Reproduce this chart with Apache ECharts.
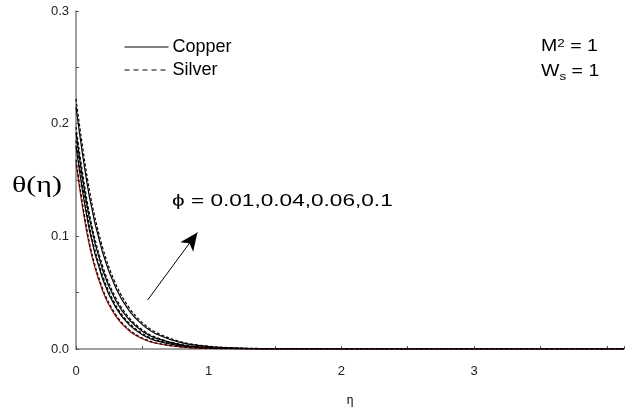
<!DOCTYPE html>
<html>
<head>
<meta charset="utf-8">
<style>
  html, body { margin: 0; padding: 0; background: #fff; }
  #chart { width: 627px; height: 412px; }
</style>
<script src="https://cdn.jsdelivr.net/npm/echarts@6/dist/echarts.min.js"></script>
</head>
<body>
<div id="chart"></div>
<script>
// eta sample points
var eta = [0, 0.1, 0.2, 0.3, 0.4, 0.5, 0.6, 0.8, 1.0, 1.2, 1.5, 2, 3, 4.13];

// theta(eta), copper (solid) and silver (dashed), phi = 0.01, 0.04, 0.06, 0.1
var cu001 = [0.165, 0.0924, 0.0517, 0.0290, 0.0162, 0.0091, 0.0051, 0.0016, 0.0005, 0.0002, 0, 0, 0, 0];
var ag001 = [0.168, 0.0950, 0.0537, 0.0304, 0.0172, 0.0097, 0.0055, 0.0018, 0.0006, 0.0002, 0, 0, 0, 0];
var cu004 = [0.180, 0.1060, 0.0624, 0.0367, 0.0216, 0.0127, 0.0075, 0.0026, 0.0009, 0.0003, 0.0001, 0, 0, 0];
var ag004 = [0.185, 0.1100, 0.0654, 0.0389, 0.0231, 0.0137, 0.0082, 0.0029, 0.0010, 0.0004, 0.0001, 0, 0, 0];
var cu006 = [0.192, 0.1165, 0.0706, 0.0428, 0.0260, 0.0158, 0.0096, 0.0035, 0.0013, 0.0005, 0.0001, 0, 0, 0];
var ag006 = [0.197, 0.1207, 0.0739, 0.0453, 0.0278, 0.0170, 0.0104, 0.0039, 0.0015, 0.0006, 0.0001, 0, 0, 0];
var cu010 = [0.215, 0.1357, 0.0857, 0.0541, 0.0341, 0.0216, 0.0136, 0.0054, 0.0022, 0.0009, 0.0002, 0, 0, 0];
var ag010 = [0.222, 0.1415, 0.0903, 0.0575, 0.0367, 0.0234, 0.0149, 0.0061, 0.0025, 0.0010, 0.0003, 0, 0, 0];

var xTicks = [0, 1, 2, 3];
var yTicks = [0.0, 0.1, 0.2, 0.3];

// arrow for the phi annotation, in data units
var arrowFrom = [0.54, 0.0435];
var arrowTo = [0.915, 0.1035];

function pts(ys) {
  return eta.map(function (x, i) { return [x, ys[i]]; });
}

function curve(name, ys, dashed, color) {
  return {
    name: name,
    type: 'line',
    data: pts(ys),
    smooth: 0.35,
    symbol: 'none',
    itemStyle: { color: '#000' },
    lineStyle: { color: color || '#000', width: 1.2, type: dashed ? [3, 2] : 'solid' },
    z: dashed ? 3 : 2
  };
}

var myChart = echarts.init(document.getElementById('chart'));
var series = [
  curve('Copper', cu010, false),
  curve('Silver', ag010, true),
  curve('Copper', cu006, false),
  curve('Silver', ag006, true),
  curve('Copper', cu004, false),
  curve('Silver', ag004, true),
  curve('Copper', cu001, false, '#b01515'),
  curve('Silver', ag001, true)
];
series[0].markLine = {
  silent: true,
  symbol: ['none', 'arrow'],
  symbolSize: [12, 18],
  label: { show: false },
  lineStyle: { color: '#000', width: 1, type: 'solid' },
  data: [[{ coord: arrowFrom }, { coord: arrowTo }]]
};

var sans = '"Liberation Sans", Arial, sans-serif';

var option = {
  backgroundColor: '#fff',
  animation: false,
  textStyle: { fontFamily: sans },
  grid: { left: 76, right: 0, top: 11, bottom: 59, containLabel: false },
  legend: {
    orient: 'vertical',
    left: 119,
    top: 33,
    itemWidth: 44,
    itemHeight: 10,
    itemGap: 5,
    textStyle: { fontSize: 18, color: '#000', padding: [0, 0, 0, -1] },
    data: [
      { name: 'Copper', itemStyle: { opacity: 0 }, lineStyle: { color: '#000', width: 1, type: 'solid' } },
      { name: 'Silver', itemStyle: { opacity: 0 }, lineStyle: { color: '#000', width: 1, type: [5, 4] } }
    ]
  },
  xAxis: {
    type: 'value',
    min: 0,
    max: 4.13,
    interval: 0.5,
    name: 'η',
    nameLocation: 'middle',
    nameGap: 46,
    nameTextStyle: { fontSize: 12, color: '#000' },
    axisLine: { lineStyle: { color: '#808080', width: 1.5 } },
    axisTick: { inside: true, length: 3, lineStyle: { color: '#555' } },
    axisLabel: {
      fontSize: 13, color: '#222', margin: 16,
      formatter: function (v) { return xTicks.indexOf(v) >= 0 ? String(v) : ''; }
    },
    splitLine: { show: false }
  },
  yAxis: {
    type: 'value',
    min: 0,
    max: 0.3,
    interval: 0.05,
    axisLine: { show: true, lineStyle: { color: '#808080', width: 1.5 } },
    axisTick: { show: true, inside: true, length: 3, lineStyle: { color: '#555' } },
    axisLabel: {
      fontSize: 13, color: '#222', margin: 7,
      formatter: function (v) {
        var r = Math.round(v * 100) / 100;
        return yTicks.indexOf(r) >= 0 ? r.toFixed(1) : '';
      }
    },
    splitLine: { show: false }
  },
  graphic: [
    { type: 'text', x: 12, y: 174, scaleX: 1.3, style: { text: 'θ(η)', font: '23px "Liberation Serif", "DejaVu Serif", serif', fill: '#000' } },
    { type: 'text', x: 172, y: 193, scaleX: 1.33, style: { text: 'ϕ = 0.01,0.04,0.06,0.1', font: '17px ' + sans, fill: '#000' } },
    { type: 'text', x: 541, y: 38, scaleX: 1.22, style: { rich: { b: { fontSize: 16 }, s: { fontSize: 11, verticalAlign: 'top', padding: [0, 0, 7, 0] } }, text: '{b|M}{s|2}{b| = 1}', fill: '#000', font: '16px ' + sans } },
    { type: 'text', x: 541, y: 62, scaleX: 1.22, style: { rich: { b: { fontSize: 16 }, s: { fontSize: 11, padding: [9, 0, 0, 0] } }, text: '{b|W}{s|s}{b| = 1}', fill: '#000', font: '16px ' + sans } }
  ],
  series: series
};
myChart.setOption(option);
</script>
</body>
</html>
